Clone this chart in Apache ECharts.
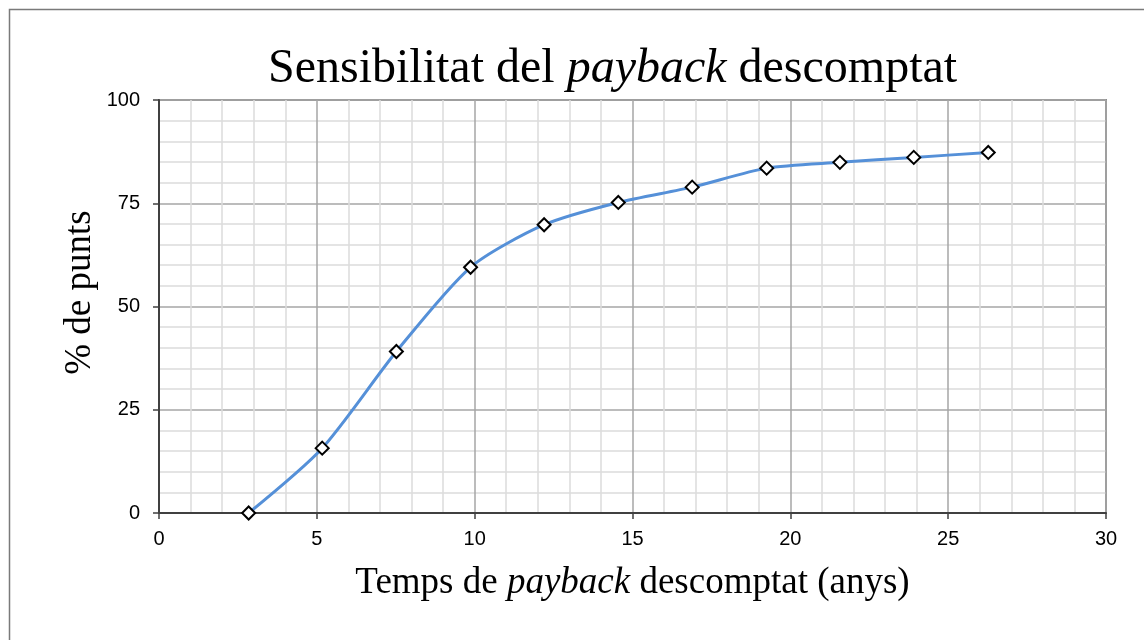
<!DOCTYPE html>
<html>
<head>
<meta charset="utf-8">
<title>Sensibilitat del payback descomptat</title>
<script src="https://cdn.jsdelivr.net/npm/echarts@6/dist/echarts.min.js"></script>
<style>
  html, body { margin: 0; padding: 0; background: #fff; }
  #chart { width: 1144px; height: 640px; }
</style>
</head>
<body>
<div id="chart"></div>
<script>
// Discounted payback time (years) and share of points (%)
const paybackYears = [2.84, 5.17, 7.52, 9.87, 12.2, 14.55, 16.89, 19.25, 21.57, 23.91, 26.27];
const pointsPct   = [0, 15.7, 39.1, 59.5, 69.8, 75.2, 78.9, 83.5, 84.9, 86.1, 87.3];

const serif = '"Liberation Serif", "DejaVu Serif", serif';
const sans = '"Liberation Sans", Arial, sans-serif';

const chart = echarts.init(document.getElementById('chart'), null, { renderer: 'canvas' });

chart.setOption({
  backgroundColor: '#ffffff',
  animation: false,
  graphic: [{
    type: 'rect',
    shape: { x: 9.5, y: 9.5, width: 1200, height: 700 },
    style: { fill: 'none', stroke: '#7a7a7a', lineWidth: 1.5 },
    silent: true
  }],
  title: {
    text: '{n|Sensibilitat del }{i|payback}{n| descomptat}',
    left: 263,
    top: 40,
    textStyle: {
      fontWeight: 'normal',
      rich: {
        n: { fontFamily: serif, fontSize: 48, fontWeight: 'normal', color: '#000' },
        i: { fontFamily: serif, fontSize: 48, fontWeight: 'normal', fontStyle: 'italic', color: '#000' }
      }
    }
  },
  grid: {
    left: 159, top: 100, right: 38, bottom: 127,
    show: true, borderColor: '#8c8c8c', borderWidth: 2,
    containLabel: false
  },
  xAxis: {
    type: 'value',
    min: 0, max: 30, interval: 5,
    name: '{n|Temps de }{i|payback}{n| descomptat (anys)}',
    nameLocation: 'middle',
    nameGap: 52,
    nameMoveOverlap: false,
    nameTextStyle: {
      rich: {
        n: { fontFamily: serif, fontSize: 37, color: '#000' },
        i: { fontFamily: serif, fontSize: 37, fontStyle: 'italic', color: '#000' }
      }
    },
    axisLine: { show: true, lineStyle: { color: '#404040', width: 2 } },
    axisTick: { show: true, length: 6, lineStyle: { color: '#404040', width: 1.5 } },
    axisLabel: { fontFamily: sans, fontSize: 20, color: '#000', margin: 16 },
    splitLine: { show: true, lineStyle: { color: '#a6a6a6', width: 1.5 } },
    minorTick: { show: false, splitNumber: 5 },
    minorSplitLine: { show: true, lineStyle: { color: '#dcdcdc', width: 1.5 } }
  },
  yAxis: {
    type: 'value',
    min: 0, max: 100, interval: 25,
    name: '% de punts',
    nameLocation: 'middle',
    nameGap: 60,
    nameRotate: 90,
    nameMoveOverlap: false,
    nameTextStyle: { fontFamily: serif, fontSize: 37, color: '#000', padding: [0, 0, 0, 28] },
    axisLine: { show: true, lineStyle: { color: '#404040', width: 2 } },
    axisTick: { show: true, length: 6, lineStyle: { color: '#404040', width: 1.5 } },
    axisLabel: { fontFamily: sans, fontSize: 20, color: '#000', margin: 19 },
    splitLine: { show: true, lineStyle: { color: '#a6a6a6', width: 1.5 } },
    minorTick: { show: false, splitNumber: 5 },
    minorSplitLine: { show: true, lineStyle: { color: '#dcdcdc', width: 1.5 } }
  },
  series: [{
    type: 'line',
    data: paybackYears.map((x, i) => [x, pointsPct[i]]),
    smooth: 0.25,
    symbol: 'diamond',
    symbolSize: 13,
    lineStyle: { color: '#5590d8', width: 3 },
    itemStyle: { color: '#ffffff', borderColor: '#000000', borderWidth: 2 },
    z: 5
  }]
});
</script>
</body>
</html>
